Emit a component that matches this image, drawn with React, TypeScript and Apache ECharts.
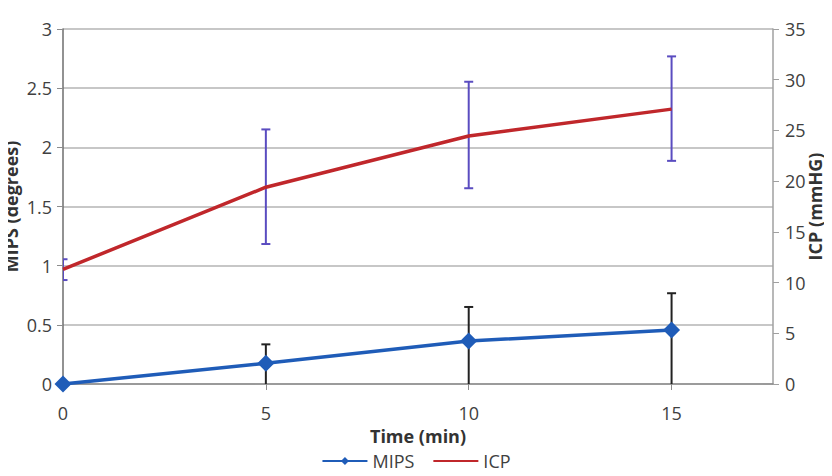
import React, { useEffect, useRef } from "react";
import * as echarts from "echarts";

// Time points (min)
const times = [0, 5, 10, 15];

// MIPS (degrees), left axis
const mipsMean = [0, 0.175, 0.363, 0.456];
const mipsLow = [0, 0, 0, 0];
const mipsHigh = [0, 0.335, 0.651, 0.767];

// ICP (mmHG), right axis
const icpMean = [11.3, 19.4, 24.45, 27.1];
const icpLow = [10.25, 13.8, 19.3, 22.0];
const icpHigh = [12.3, 25.1, 29.8, 32.3];

const leftTicks = { min: 0, max: 3, interval: 0.5 };
const rightTicks = { min: 0, max: 35, interval: 5 };
const xTicks = { min: 0, max: 17.5, interval: 5 };

const FONT = "'Open Sans', 'Liberation Sans', sans-serif";
const LABEL_COLOR = "#404040";

function errorBarRenderer(color: string, capHalf: number) {
  return (params: any, api: any) => {
    const x = api.value(0);
    const lo = api.value(1);
    const hi = api.value(2);
    if (hi === lo) return null;
    const pLo = api.coord([x, lo]);
    const pHi = api.coord([x, hi]);
    const cs = params.coordSys;
    const clipX = (v: number) => Math.max(cs.x, Math.min(cs.x + cs.width, v));
    const bottom = cs.y + cs.height;
    const style = { stroke: color, lineWidth: 2, fill: "none" };
    const children: any[] = [
      {
        type: "line",
        shape: { x1: pLo[0], y1: Math.min(pLo[1], bottom), x2: pHi[0], y2: pHi[1] },
        style,
      },
      {
        type: "line",
        shape: { x1: clipX(pHi[0] - capHalf), y1: pHi[1], x2: clipX(pHi[0] + capHalf), y2: pHi[1] },
        style,
      },
    ];
    if (pLo[1] < bottom - 0.5) {
      children.push({
        type: "line",
        shape: { x1: clipX(pLo[0] - capHalf), y1: pLo[1], x2: clipX(pLo[0] + capHalf), y2: pLo[1] },
        style,
      });
    }
    return { type: "group", children };
  };
}

export default function App() {
  const ref = useRef<HTMLDivElement>(null);

  useEffect(() => {
    if (!ref.current) return;
    const chart = echarts.init(ref.current, null, { renderer: "svg" });

    const mipsErr = times.map((t, i) => [t, mipsLow[i], mipsHigh[i]]);
    const icpErr = times.map((t, i) => [t, icpLow[i], icpHigh[i]]);

    const yTitleStyle = { fontSize: 18, fontWeight: "bold", color: "#333", fontFamily: FONT };
    const xTitleStyle = { fontSize: 18, fontWeight: "bold", color: "#333", fontFamily: FONT };

    chart.setOption({
      animation: false,
      backgroundColor: "#ffffff",
      textStyle: { fontFamily: FONT },
      grid: {
        left: 63,
        right: 59,
        top: 29,
        bottom: 92,
        containLabel: false,
        outerBoundsMode: "none",
      },
      legend: {
        data: ["MIPS", { name: "ICP", itemStyle: { opacity: 0 } }],
        top: 452,
        left: "center",
        padding: 0,
        itemWidth: 45,
        itemHeight: 10,
        itemGap: 18,
        textStyle: { fontSize: 18, color: LABEL_COLOR, fontFamily: FONT },
      },
      xAxis: {
        type: "value",
        min: xTicks.min,
        max: xTicks.max,
        interval: xTicks.interval,
        name: "Time (min)",
        nameLocation: "middle",
        nameGap: 43,
        nameMoveOverlap: false,
        nameTextStyle: xTitleStyle,
        axisLine: { show: true, lineStyle: { color: "#8c8c8c", width: 1.5 } },
        axisTick: { show: true, length: 6, lineStyle: { color: "#8c8c8c" } },
        axisLabel: {
          fontSize: 18,
          color: LABEL_COLOR,
          margin: 20,
          showMaxLabel: false,
          fontFamily: FONT,
        },
        splitLine: { show: false },
      },
      yAxis: [
        {
          type: "value",
          min: leftTicks.min,
          max: leftTicks.max,
          interval: leftTicks.interval,
          position: "left",
          name: "MIPS (degrees)",
          nameLocation: "middle",
          nameRotate: 90,
          nameGap: 43,
          nameMoveOverlap: false,
          nameTextStyle: yTitleStyle,
          axisLine: { show: true, lineStyle: { color: "#6e6e6e", width: 1.5 } },
          axisTick: { show: true, length: 6, lineStyle: { color: "#8c8c8c" } },
          axisLabel: { fontSize: 18, color: LABEL_COLOR, margin: 11, fontFamily: FONT },
          splitLine: { show: true, lineStyle: { color: "#b4b4b4", width: 1.5 } },
        },
        {
          type: "value",
          min: rightTicks.min,
          max: rightTicks.max,
          interval: rightTicks.interval,
          position: "right",
          name: "ICP (mmHG)",
          nameLocation: "middle",
          nameRotate: 90,
          nameGap: 33,
          nameMoveOverlap: false,
          nameTextStyle: yTitleStyle,
          axisLine: { show: true, lineStyle: { color: "#a0a0a0", width: 1.5 } },
          axisTick: { show: true, length: 6, lineStyle: { color: "#a0a0a0" } },
          axisLabel: { fontSize: 18, color: LABEL_COLOR, margin: 12, fontFamily: FONT },
          splitLine: { show: false },
        },
      ],
      series: [
        {
          name: "MIPS error",
          type: "custom",
          yAxisIndex: 0,
          clip: true,
          z: 2,
          renderItem: errorBarRenderer("#222222", 4.5),
          encode: { x: 0, y: [1, 2] },
          data: mipsErr,
          silent: true,
        },
        {
          name: "ICP error",
          type: "custom",
          yAxisIndex: 1,
          clip: true,
          z: 2,
          renderItem: errorBarRenderer("#5a4cc0", 4.5),
          encode: { x: 0, y: [1, 2] },
          data: icpErr,
          silent: true,
        },
        {
          name: "MIPS",
          type: "line",
          yAxisIndex: 0,
          z: 3,
          data: times.map((t, i) => [t, mipsMean[i]]),
          symbol: "diamond",
          symbolSize: 17,
          clip: false,
          lineStyle: { color: "#1f5cb8", width: 3.5 },
          itemStyle: { color: "#1f5cb8" },
        },
        {
          name: "ICP",
          type: "line",
          yAxisIndex: 1,
          z: 3,
          data: times.map((t, i) => [t, icpMean[i]]),
          symbol: "none",
          clip: false,
          lineStyle: { color: "#c0272b", width: 3.5 },
          itemStyle: { color: "#c0272b" },
        },
      ],
    });

    return () => chart.dispose();
  }, []);

  return <div ref={ref} style={{ width: 832, height: 476, margin: -8 }} />;
}
